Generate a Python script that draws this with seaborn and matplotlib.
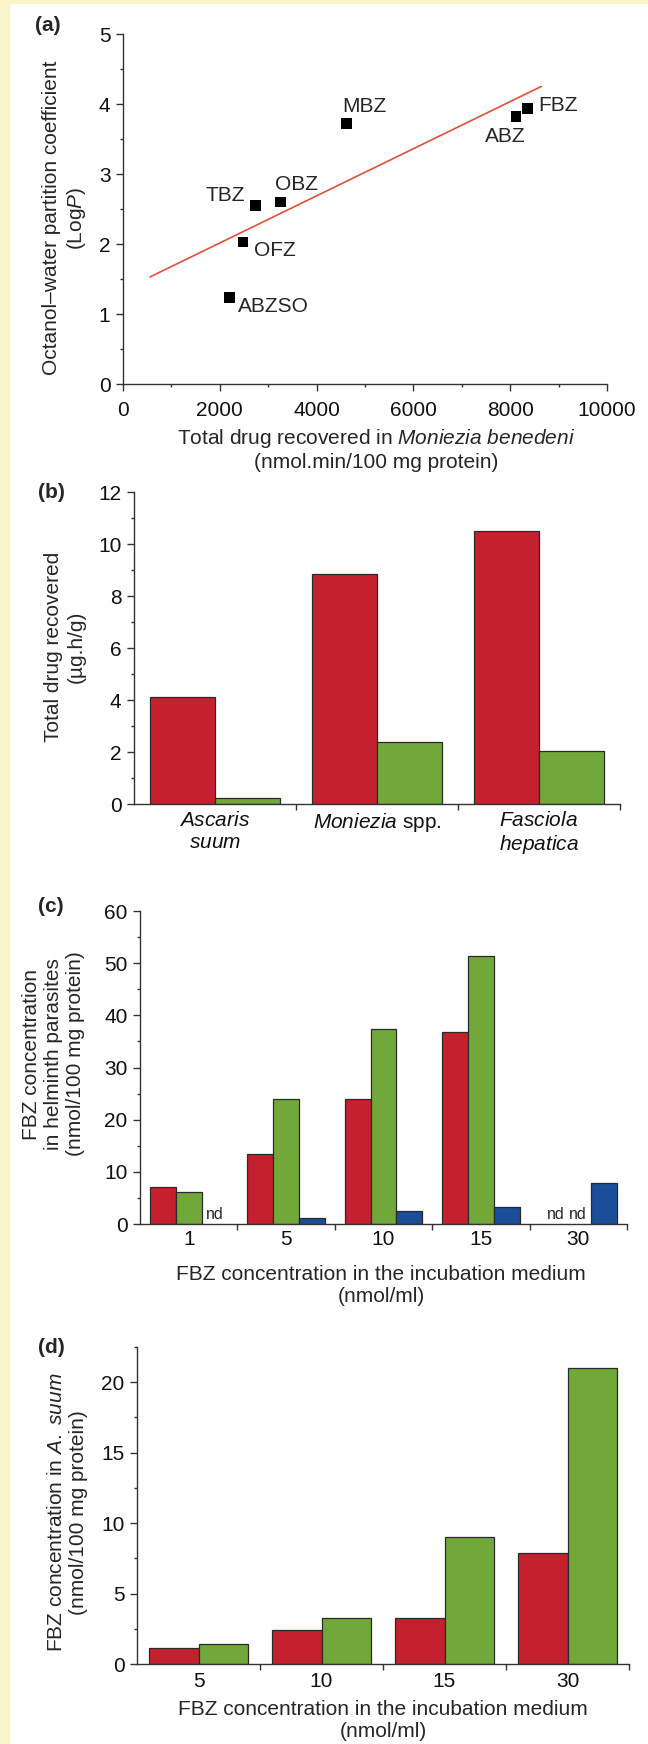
import matplotlib
matplotlib.use("Agg")
import matplotlib.pyplot as plt
from matplotlib.patches import Rectangle
from matplotlib.ticker import MultipleLocator
import numpy as np
import pandas as pd
import seaborn as sns

# (a) recovery in Moniezia benedeni vs lipophilicity
drugs = ["MBZ", "FBZ", "ABZ", "OBZ", "TBZ", "OFZ", "ABZSO"]
drug_recovered = [4610, 8350, 8120, 3260, 2730, 2480, 2200]
log_p = [3.72, 3.94, 3.82, 2.60, 2.55, 2.03, 1.24]
trend_x = [560, 8640]
trend_y = [1.53, 4.25]

# (b) total drug recovered per parasite
species = ["Ascaris suum", "Moniezia spp.", "Fasciola hepatica"]
species_labels = ["$\\mathit{Ascaris}$\n$\\mathit{suum}$",
                  "$\\mathit{Moniezia}$ spp.",
                  "$\\mathit{Fasciola}$\n$\\mathit{hepatica}$"]
recovered_1 = [4.1, 8.85, 10.5]
recovered_2 = [0.25, 2.4, 2.05]

# (c) FBZ in helminth parasites (nan = nd)
medium_c = ["1", "5", "10", "15", "30"]
helminth_1 = [7.0, 13.4, 24.0, 36.9, np.nan]
helminth_2 = [6.05, 24.0, 37.4, 51.4, np.nan]
helminth_3 = [np.nan, 1.15, 2.5, 3.25, 7.85]

# (d) FBZ in A. suum
medium_d = ["5", "10", "15", "30"]
suum_1 = [1.15, 2.4, 3.25, 7.9]
suum_2 = [1.4, 3.3, 9.0, 21.0]

RED = "#C4202E"
GREEN = "#72A83A"
BLUE = "#1A4E98"
AXCOL = "#333333"

# label offsets (points) and alignment for panel (a)
LABEL_POS = {
    "MBZ": (-3, 12, "left"),
    "FBZ": (8, 2, "left"),
    "ABZ": (-8, -14, "center"),
    "OBZ": (11, 12.5, "center"),
    "TBZ": (-7, 7, "right"),
    "OFZ": (8, -6, "left"),
    "ABZSO": (6, -7, "left"),
}

sns.set_style("ticks")
plt.rcParams.update({
    "font.family": ["Liberation Sans", "DejaVu Sans"],
    "font.size": 15,
    "mathtext.fontset": "custom",
    "mathtext.rm": "Liberation Sans",
    "mathtext.it": "Liberation Sans:italic",
    "axes.edgecolor": AXCOL,
    "axes.linewidth": 1.0,
    "xtick.color": AXCOL,
    "ytick.color": AXCOL,
    "xtick.labelcolor": "#111111",
    "ytick.labelcolor": "#111111",
    "xtick.labelsize": 15,
    "ytick.labelsize": 15,
    "axes.labelsize": 15,
})

W, H = 648, 1744
fig = plt.figure(figsize=(W / 100, H / 100), dpi=100)
fig.patch.set_facecolor("white")
fig.patches.append(Rectangle((0, 0), 9 / W, 1, transform=fig.transFigure,
                             color="#FAF5C8", zorder=-5))
fig.patches.append(Rectangle((0, 1 - 3 / H), 1, 3 / H, transform=fig.transFigure,
                             color="#FAF5C8", zorder=-5))


def add_axes(left, right, top, bottom):
    return fig.add_axes([left / W, 1 - bottom / H, (right - left) / W, (bottom - top) / H])


def style_axis(ax):
    sns.despine(ax=ax)
    ax.tick_params(which="major", direction="out", length=5, width=1, pad=4)
    ax.tick_params(which="minor", direction="out", length=2.5, width=1)


def categorical_ticks(ax, n, labels, pad):
    ax.set_xlim(-0.5, n - 0.5)
    ax.set_xticks([i + 0.5 for i in range(n)])
    ax.set_xticklabels([])
    ax.set_xticks(range(n), minor=True)
    ax.set_xticklabels(labels, minor=True)
    ax.tick_params(axis="x", which="major", length=4)
    ax.tick_params(axis="x", which="minor", length=0, pad=pad)


def panel_letter(x, y, s):
    fig.text(x / W, 1 - y / H, s, fontsize=15, fontweight="bold", ha="center", va="center")


def bars(ax, df, x, order, hue_order, palette):
    sns.barplot(data=df, x=x, y="value", hue="series", order=order, hue_order=hue_order,
                palette=palette, saturation=1, width=0.8, edgecolor="#2a2a2a",
                linewidth=0.9, legend=False, ax=ax, errorbar=None)


# ---------- (a) ----------
ax = add_axes(123, 607, 34, 384)
sns.lineplot(x=trend_x, y=trend_y, color="#E0503C", linewidth=1.2, ax=ax, zorder=2)
sns.scatterplot(x=drug_recovered, y=log_p, marker="s", color="black", s=60,
                edgecolor="none", ax=ax, zorder=3)
for name, xv, yv in zip(drugs, drug_recovered, log_p):
    dx, dy, ha = LABEL_POS[name]
    ax.annotate(name, (xv, yv), xytext=(dx, dy), textcoords="offset points",
                ha=ha, va="center", fontsize=15)
ax.set_xlim(0, 10000)
ax.set_ylim(0, 5)
ax.xaxis.set_major_locator(MultipleLocator(2000))
ax.xaxis.set_minor_locator(MultipleLocator(1000))
ax.yaxis.set_major_locator(MultipleLocator(1))
ax.yaxis.set_minor_locator(MultipleLocator(0.5))
style_axis(ax)
ax.tick_params(axis="x", pad=7)
ax.set_xlabel("Total drug recovered in $\\mathit{Moniezia\\ benedeni}$\n(nmol.min/100 mg protein)",
              ha="center", va="center")
ax.xaxis.set_label_coords(0.523, -0.186)
ax.set_ylabel("Octanol\u2013water partition coefficient\n(Log$\\mathit{P}$)",
              ha="center", va="center")
ax.yaxis.set_label_coords(-0.1198, 0.474)
panel_letter(47.5, 25.5, "(a)")

# ---------- (b) ----------
df_b = pd.DataFrame({
    "species": species * 2,
    "series": ["s1"] * 3 + ["s2"] * 3,
    "value": recovered_1 + recovered_2,
})
ax = add_axes(134, 620, 492, 804)
bars(ax, df_b, "species", species, ["s1", "s2"], [RED, GREEN])
ax.set_ylim(0, 12)
ax.yaxis.set_major_locator(MultipleLocator(2))
ax.yaxis.set_minor_locator(MultipleLocator(1))
style_axis(ax)
categorical_ticks(ax, 3, species_labels, pad=5)
ax.set_xlabel("")
ax.set_ylabel("Total drug recovered\n(\u00b5g.h/g)", ha="center", va="center")
ax.yaxis.set_label_coords(-0.142, 0.503)
panel_letter(51, 492.5, "(b)")


def nd_labels(ax, values_by_hue):
    n = len(values_by_hue)
    for j, vals in enumerate(values_by_hue):
        off = -0.4 + 0.8 / n * (j + 0.5)
        for i, v in enumerate(vals):
            if np.isnan(v):
                # a pair of nd labels is drawn close together, toward the filled bar
                nudge = 0
                if j + 1 < n and np.isnan(values_by_hue[j + 1][i]):
                    nudge = 2.5
                elif j > 0 and np.isnan(values_by_hue[j - 1][i]):
                    nudge = -0.5
                ax.annotate("nd", (i + off, 0), xytext=(nudge, 1.5), textcoords="offset points",
                            ha="center", va="bottom", fontsize=11.5)


# ---------- (c) ----------
df_c = pd.DataFrame({
    "conc": medium_c * 3,
    "series": ["s1"] * 5 + ["s2"] * 5 + ["s3"] * 5,
    "value": helminth_1 + helminth_2 + helminth_3,
})
ax = add_axes(140, 627, 911, 1224)
bars(ax, df_c, "conc", medium_c, ["s1", "s2", "s3"], [RED, GREEN, BLUE])
ax.set_ylim(0, 60)
ax.yaxis.set_major_locator(MultipleLocator(10))
ax.yaxis.set_minor_locator(MultipleLocator(5))
style_axis(ax)
categorical_ticks(ax, 5, medium_c, pad=4)
nd_labels(ax, [helminth_1, helminth_2, helminth_3])
ax.set_xlabel("FBZ concentration in the incubation medium\n(nmol/ml)", ha="center", va="center")
ax.xaxis.set_label_coords(0.495, -0.198)
ax.set_ylabel("FBZ concentration\nin helminth parasites\n(nmol/100 mg protein)",
              ha="center", va="center")
ax.yaxis.set_label_coords(-0.1766, 0.543)
panel_letter(50.5, 907, "(c)")

# ---------- (d) ----------
df_d = pd.DataFrame({
    "conc": medium_d * 2,
    "series": ["s1"] * 4 + ["s2"] * 4,
    "value": suum_1 + suum_2,
})
ax = add_axes(137, 629, 1347, 1664)
bars(ax, df_d, "conc", medium_d, ["s1", "s2"], [RED, GREEN])
ax.set_ylim(0, 22.5)
ax.yaxis.set_major_locator(MultipleLocator(5))
ax.yaxis.set_minor_locator(MultipleLocator(2.5))
style_axis(ax)
categorical_ticks(ax, 4, medium_d, pad=6)
ax.set_xlabel("FBZ concentration in the incubation medium\n(nmol/ml)", ha="center", va="center")
ax.xaxis.set_label_coords(0.5, -0.177)
ax.set_ylabel("FBZ concentration in $\\mathit{A.\\ suum}$\n(nmol/100 mg protein)",
              ha="center", va="center")
ax.yaxis.set_label_coords(-0.142, 0.479)
panel_letter(51.5, 1347, "(d)")

fig.savefig("out.png", dpi=100)
